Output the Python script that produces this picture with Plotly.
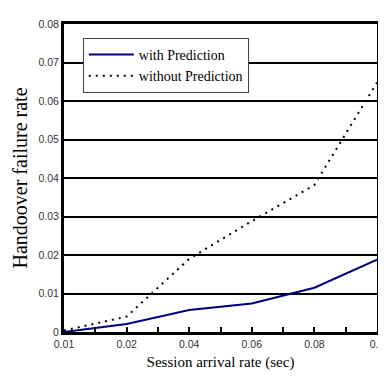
import plotly.graph_objects as go

categories = ["0.01", "0.02", "0.04", "0.06", "0.08", "0.1"]
with_prediction = [0.0, 0.0021, 0.0057, 0.0074, 0.0115, 0.0188]
without_prediction = [0.0004, 0.0040, 0.0190, 0.0288, 0.0382, 0.0648]
y_ticks = [0, 0.01, 0.02, 0.03, 0.04, 0.05, 0.06, 0.07, 0.08]
y_ticktext = ["0", "0.01", "0.02", "0.03", "0.04", "0.05", "0.06", "0.07", "0.08"]

xs = list(range(len(categories)))

fig = go.Figure()
fig.add_trace(go.Scatter(x=xs, y=with_prediction, mode="lines", name="with Prediction",
                         line=dict(color="#000080", width=2)))
fig.add_trace(go.Scatter(x=xs, y=without_prediction, mode="lines", name="without Prediction",
                         line=dict(color="black", width=2, dash="2px,5px")))

SERIF = "Liberation Serif"
tick_font = dict(family="Arial", size=10.5, color="#333")

fig.update_layout(
    width=386, height=381,
    margin=dict(l=55, r=10, t=15, b=57),
    paper_bgcolor="white", plot_bgcolor="white",
    showlegend=True,
    font=dict(family=SERIF),
    legend=dict(x=0.06, y=0.955, xanchor="left", yanchor="top",
                bgcolor="white", bordercolor="#444", borderwidth=1,
                font=dict(family=SERIF, size=14, color="black"),
                tracegroupgap=0, itemwidth=45),
    xaxis=dict(range=[0, 5], tickmode="array", tickvals=xs, ticktext=categories,
               showgrid=False, zeroline=False, showline=True, linecolor="black", linewidth=3,
               mirror=True, ticks="inside", ticklen=5, tickwidth=2, tickcolor="black",
               minor=dict(tickmode="array", tickvals=[0.5, 1.5, 2.5, 3.5, 4.5], ticks="inside",
                          ticklen=5, tickwidth=2, tickcolor="black"),
               tickfont=tick_font, ticklabeloverflow="allow",
               title=dict(text="Session arrival rate (sec)", standoff=8,
                          font=dict(family=SERIF, size=15, color="black"))),
    yaxis=dict(range=[0, 0.08], tickmode="array", tickvals=y_ticks, ticktext=y_ticktext,
               showgrid=True, gridcolor="black", gridwidth=1.5, zeroline=False,
               showline=True, linecolor="black", linewidth=3, mirror=True, ticks="",
               tickfont=tick_font,
               title=dict(text="Handoover failure rate", standoff=6,
                          font=dict(family=SERIF, size=20, color="black"))),
)

fig.write_html("out.html")
